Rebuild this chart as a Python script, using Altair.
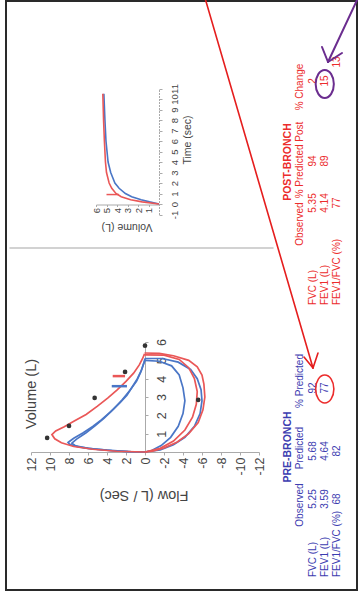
import altair as alt
import pandas as pd

# ======================= DATA =======================
rows = ["FVC (L)", "FEV1 (L)", "FEV1/FVC (%)"]
pre_observed = [5.25, 3.59, 68]
pre_predicted = [5.68, 4.64, 82]
pre_pct_predicted = [92, 77, None]
post_observed = [5.35, 4.14, 77]
post_pct_predicted = [94, 89, None]
post_pct_change = [2, 15, None]
post_pct_change_ratio = [13]          # FEV1/FVC % change (printed off-line)

flow_ticks = [12, 10, 8, 6, 4, 2, 0, -2, -4, -6, -8, -10, -12]
fv_volume_ticks = [1, 2, 3, 4, 5, 6]
time_ticks = [-1, 0, 1, 2, 3, 4, 5, 6, 7, 8, 9, 10, 11]
tv_volume_ticks = [1, 2, 3, 4, 5, 6]

# Flow-volume loops (flow L/s, volume L)
pre_exp1_flow = [0, 1.5, 3.5, 5.5, 7.0, 7.9, 8.1, 7.5, 6.5, 5.5, 4.6, 3.6, 2.6, 1.9, 1.4, 0.8, 0.35, 0.1, 0.0]
pre_exp1_vol = [0, 0.02, 0.08, 0.17, 0.28, 0.4, 0.52, 0.75, 1.05, 1.4, 1.75, 2.2, 2.7, 3.1, 3.5, 4.0, 4.5, 4.9, 5.1]
pre_exp2_flow = [0, 1.8, 4.0, 6.0, 7.3, 7.7, 7.2, 6.2, 5.2, 4.3, 3.3, 2.4, 1.6, 0.9, 0.45, 0.15, 0.0]
pre_exp2_vol = [0, 0.02, 0.1, 0.2, 0.33, 0.48, 0.7, 1.05, 1.45, 1.85, 2.35, 2.85, 3.35, 3.85, 4.35, 4.8, 5.0]
post_exp_flow = [0, 3.0, 5.5, 7.5, 8.8, 9.5, 9.8, 9.4, 8.5, 7.4, 6.2, 5.0, 3.9, 2.9, 2.0, 1.2, 0.6, 0.25, 0.05]
post_exp_vol = [0, 0.04, 0.15, 0.3, 0.5, 0.72, 0.95, 1.15, 1.38, 1.7, 2.05, 2.5, 2.95, 3.4, 3.85, 4.3, 4.75, 5.1, 5.35]

pre_insp1_flow = [0, -1.5, -2.8, -3.6, -4.0, -4.2, -4.0, -3.5, -2.7, -1.7, -0.7, 0]
pre_insp1_vol = [5.0, 4.95, 4.7, 4.2, 3.5, 2.8, 2.1, 1.4, 0.8, 0.35, 0.08, 0]
pre_insp2_flow = [0, -1.8, -3.5, -4.8, -5.5, -5.9, -6.0, -5.8, -5.2, -4.2, -3.0, -1.6, 0]
pre_insp2_vol = [5.1, 5.1, 4.9, 4.5, 4.0, 3.4, 2.8, 2.1, 1.4, 0.8, 0.4, 0.12, 0]
post_insp1_flow = [0.05, -2.0, -3.6, -4.6, -5.2, -5.5, -5.4, -5.0, -4.2, -3.0, -1.6, 0]
post_insp1_vol = [5.3, 5.28, 5.05, 4.6, 4.0, 3.3, 2.6, 1.9, 1.2, 0.6, 0.2, 0]
post_insp2_flow = [0.05, -1.5, -3.0, -4.6, -5.5, -6.0, -6.2, -6.3, -6.1, -5.6, -4.6, -3.4, -2.0, -0.8, 0]
post_insp2_vol = [5.4, 5.38, 5.25, 5.0, 4.65, 4.2, 3.7, 3.0, 2.3, 1.6, 1.0, 0.55, 0.22, 0.05, 0]

# predicted points on flow-volume plot
pred_flow = [10.3, 8.0, 5.3, 2.1, 0.0, -5.6]
pred_vol = [0.77, 1.42, 2.95, 4.37, 5.8, 2.84]

# FEV1 markers (volume level, flow extent)
fev1_test = ["Pre", "Post"]
fev1_vol = [3.59, 4.14]
fev1_flow_a = [3.5, 3.4]
fev1_flow_b = [1.9, 2.1]

# Volume-time curves
pre_time = [0, 0.2, 0.4, 0.7, 1.0, 1.5, 2.0, 3.0, 4.0, 6.0, 8.0, 10.5]
pre_tvol = [0, 0.9, 1.7, 2.6, 3.2, 3.8, 4.2, 4.6, 4.85, 5.05, 5.15, 5.25]
post_time = [0, 0.2, 0.4, 0.7, 1.0, 1.5, 2.0, 3.0, 4.0, 6.0, 8.0, 10.5]
post_tvol = [0, 1.6, 2.7, 3.6, 4.1, 4.5, 4.75, 5.0, 5.1, 5.2, 5.28, 5.35]
post_t_marker = [0.9]
post_t_marker_vol_a = [3.8]
post_t_marker_vol_b = [5.0]

# ======================= STYLE / LAYOUT =======================
W, H = 360, 592
BLUE = "#4a76c6"
RED = "#ea5757"
TBLUE = "#3c3cb0"
TRED = "#ec2c2c"
PURPLE = "#6b2d8f"
GRAY = "#444444"
FONT = "Liberation Sans"
NFONT = "Liberation Sans Narrow, Liberation Sans, Arial, sans-serif"

FV_X = dict(domain=[-12, 12], range=[259, 31], nice=False, zero=False)
FV_Y = dict(domain=[0, 6], range=[452, 342], nice=False, zero=False)
TV_X = dict(domain=[0, 6], range=[159, 96], nice=False, zero=False)
TV_Y = dict(domain=[-1, 11], range=[214.5, 88.5], nice=False, zero=False)
PX_X = dict(domain=[0, W], range=[0, W], nice=False, zero=False)
PX_Y = dict(domain=[0, H], range=[0, H], nice=False, zero=False)
ROW_X = alt.Scale(type="point", domain=rows, range=[312.5, 337], padding=0)
COLOR = alt.Scale(domain=["Pre", "Post"], range=[BLUE, RED])

one = pd.DataFrame({"k": [0]})


def curve(test, name, xs, ys, xn, yn):
    return pd.DataFrame({"test": test, "curve": name, xn: xs, yn: ys,
                         "i": list(range(len(xs)))})


fv = pd.concat([
    curve("Pre", "pe1", pre_exp1_flow, pre_exp1_vol, "flow", "volume"),
    curve("Pre", "pe2", pre_exp2_flow, pre_exp2_vol, "flow", "volume"),
    curve("Pre", "pi1", pre_insp1_flow, pre_insp1_vol, "flow", "volume"),
    curve("Pre", "pi2", pre_insp2_flow, pre_insp2_vol, "flow", "volume"),
    curve("Post", "qi1", post_insp1_flow, post_insp1_vol, "flow", "volume"),
    curve("Post", "qi2", post_insp2_flow, post_insp2_vol, "flow", "volume"),
    curve("Post", "qe", post_exp_flow, post_exp_vol, "flow", "volume"),
])
tv = pd.concat([
    curve("Pre", "p", pre_time, pre_tvol, "time", "vol"),
    curve("Post", "q", post_time, post_tvol, "time", "vol"),
])


def label_text(x, y, text, angle, size, color=GRAY, weight="normal", align="center", font=FONT):
    return alt.Chart(one).mark_text(
        text=text, angle=angle, fontSize=size, color=color, fontWeight=weight,
        align=align, baseline="middle", font=font,
    ).encode(x=alt.value(x), y=alt.value(y))


def pixel_segments(df, color, width):
    return alt.Chart(df).mark_rule(color=color, strokeWidth=width, strokeCap="round").encode(
        x=alt.X("x:Q", scale=alt.Scale(**PX_X), axis=None), x2="x2:Q",
        y=alt.Y("y:Q", scale=alt.Scale(**PX_Y), axis=None), y2="y2:Q")


layers = []

# frame and separator
layers.append(alt.Chart(one).mark_rect(fillOpacity=0, stroke="#2a2a2a", strokeWidth=2).encode(
    x=alt.value(6), x2=alt.value(357), y=alt.value(1), y2=alt.value(590)))
separator = pd.DataFrame({"x": [10], "y": [248], "x2": [273], "y2": [248]})
layers.append(pixel_segments(separator, "#c4c4c4", 1.5))

# ---------- flow-volume plot ----------
layers.append(alt.Chart(fv).mark_line(strokeWidth=1.7).encode(
    x=alt.X("flow:Q", scale=alt.Scale(**FV_X), axis=alt.Axis(
        values=flow_ticks, orient="bottom", offset=-(H - 452), title=None, grid=False,
        labelAngle=270, labelAlign="right", labelBaseline="middle", labelFontSize=12.5,
        labelColor=GRAY, labelFont=FONT, labelPadding=2, labelOverlap=False, labelFlush=False,
        labelExpr="'' + datum.value", domainColor="#aaaaaa", tickColor="#aaaaaa", tickSize=3)),
    y=alt.Y("volume:Q", scale=alt.Scale(**FV_Y), axis=alt.Axis(
        values=fv_volume_ticks, orient="right", offset=-(W - 145), title=None, grid=False,
        labelAngle=270, labelAlign="center", labelBaseline="top", labelFontSize=12.5,
        labelColor=GRAY, labelFont=FONT, labelPadding=7, labelOverlap=False, labelFlush=False,
        domainColor="#aaaaaa", tickColor="#aaaaaa", tickSize=3)),
    color=alt.Color("test:N", scale=COLOR, legend=None),
    detail="curve:N",
    order="i:Q",
))

fev1 = pd.DataFrame({"test": fev1_test, "vol": fev1_vol, "fa": fev1_flow_a, "fb": fev1_flow_b})
layers.append(alt.Chart(fev1).mark_rule(strokeWidth=2.5).encode(
    x=alt.X("fa:Q", scale=alt.Scale(**FV_X), axis=None), x2="fb:Q",
    y=alt.Y("vol:Q", scale=alt.Scale(**FV_Y), axis=None),
    color=alt.Color("test:N", scale=COLOR, legend=None)))

pred = pd.DataFrame({"flow": pred_flow, "vol": pred_vol})
layers.append(alt.Chart(pred).mark_circle(size=22, color="#333333", opacity=1).encode(
    x=alt.X("flow:Q", scale=alt.Scale(**FV_X), axis=None),
    y=alt.Y("vol:Q", scale=alt.Scale(**FV_Y), axis=None)))

layers.append(label_text(32, 394, "Volume (L)", 270, 14.5))
layers.append(label_text(144, 495, "Flow (L / Sec)", 180, 14.5))

# ---------- volume-time plot ----------
layers.append(alt.Chart(tv).mark_line(strokeWidth=1.6).encode(
    x=alt.X("vol:Q", scale=alt.Scale(**TV_X), axis=alt.Axis(
        values=tv_volume_ticks, orient="bottom", offset=-(H - 204.5), title=None, grid=False,
        labelAngle=270, labelAlign="right", labelBaseline="middle", labelFontSize=9.5,
        labelColor=GRAY, labelFont=FONT, labelPadding=1, labelOverlap=False, labelFlush=False,
        domainColor="#aaaaaa", tickColor="#aaaaaa", tickSize=2)),
    y=alt.Y("time:Q", scale=alt.Scale(**TV_Y), axis=alt.Axis(
        values=time_ticks, orient="right", offset=-(W - 159), title=None, grid=False,
        labelAngle=270, labelAlign="center", labelBaseline="top", labelFontSize=9.5,
        labelColor=GRAY, labelFont=FONT, labelPadding=7, labelOverlap=False, labelFlush=False,
        labelExpr="'' + datum.value", domainColor="#aaaaaa", domainDash=[2, 1],
        tickColor="#aaaaaa", tickSize=3)),
    color=alt.Color("test:N", scale=COLOR, legend=None),
    detail="curve:N",
    order="i:Q",
))
tmark = pd.DataFrame({"t": post_t_marker, "va": post_t_marker_vol_a, "vb": post_t_marker_vol_b})
layers.append(alt.Chart(tmark).mark_rule(strokeWidth=1.5, color=RED).encode(
    x=alt.X("va:Q", scale=alt.Scale(**TV_X), axis=None), x2="vb:Q",
    y=alt.Y("t:Q", scale=alt.Scale(**TV_Y), axis=None)))
layers.append(label_text(127, 227, "Volume (L)", 180, 10.5))
layers.append(label_text(188, 140, "Time (sec)", 270, 10.5))

# ---------- tables ----------
def col_layer(values, y, color, align="center"):
    df = pd.DataFrame({"row": rows, "v": values}).dropna()
    return alt.Chart(df).mark_text(angle=270, fontSize=10, color=color, font=NFONT,
                                   align=align, baseline="middle").encode(
        x=alt.X("row:N", scale=ROW_X, axis=None),
        y=alt.value(y),
        text=alt.Text("v:N"))


# PRE-BRONCH
layers.append(label_text(288, 447, "PRE-BRONCH", 270, 10.5, TBLUE, "bold"))
layers.append(label_text(300, 505, "Observed", 270, 10, TBLUE, font=NFONT))
layers.append(label_text(300, 448, "Predicted", 270, 10, TBLUE, font=NFONT))
layers.append(label_text(300, 381, "% Predicted", 270, 10, TBLUE, font=NFONT))
layers.append(col_layer(rows, 577, TBLUE, align="left"))
layers.append(col_layer(pre_observed, 499, TBLUE))
layers.append(col_layer(pre_predicted, 451, TBLUE))
layers.append(col_layer(pre_pct_predicted, 388, TBLUE))

# POST-BRONCH
layers.append(label_text(288, 162, "POST-BRONCH", 270, 10.5, TRED, "bold"))
layers.append(label_text(300, 224, "Observed", 270, 10, TRED, font=NFONT))
layers.append(label_text(300, 160, "% Predicted Post", 270, 10, TRED, font=NFONT))
layers.append(label_text(300, 87, "% Change", 270, 10, TRED, font=NFONT))
layers.append(col_layer(rows, 305, TRED, align="left"))
layers.append(col_layer(post_observed, 203, TRED))
layers.append(col_layer(post_pct_predicted, 161, TRED))
layers.append(col_layer(post_pct_change, 81, TRED))
chg3 = pd.DataFrame({"row": [rows[2]], "v": post_pct_change_ratio})
layers.append(alt.Chart(chg3).mark_text(angle=270, fontSize=10, color=TRED, font=NFONT,
                                        baseline="middle").encode(
    x=alt.X("row:N", scale=ROW_X, axis=None), y=alt.value(62), text=alt.Text("v:N")))

# ---------- annotations ----------
ELLIPSE = "M0,-1 A0.65,1 0 1,1 0,1 A0.65,1 0 1,1 0,-1 Z"
hl_cell = pd.DataFrame({"row": [rows[1]]})
layers.append(alt.Chart(hl_cell).mark_point(shape=ELLIPSE, size=784, filled=False,
                                            stroke=TRED, strokeWidth=1.6, opacity=1).encode(
    x=alt.X("row:N", scale=ROW_X, axis=None), y=alt.value(389)))
layers.append(alt.Chart(hl_cell).mark_point(shape=ELLIPSE, size=784, filled=False,
                                            stroke=PURPLE, strokeWidth=2, opacity=1).encode(
    x=alt.X("row:N", scale=ROW_X, axis=None), y=alt.value(84)))

red_arrow = pd.DataFrame({"x": [205, 313, 313], "y": [-2, 368, 368],
                          "x2": [313, 304, 318], "y2": [368, 357, 353]})
purple_arrow = pd.DataFrame({"x": [358, 328, 328], "y": [-2, 62, 62],
                             "x2": [328, 322, 342], "y2": [62, 47, 53]})
layers.append(pixel_segments(red_arrow, "#e51e1e", 1.6))
layers.append(pixel_segments(purple_arrow, PURPLE, 2))

chart = alt.layer(*layers).resolve_scale(
    x="independent", y="independent"
).resolve_axis(
    x="independent", y="independent"
).properties(
    width=W, height=H, padding=0, autosize=alt.AutoSizeParams(type="none"),
    background="white",
).configure_view(stroke=None)

chart.save("out.html", embed_options={"renderer": "svg", "actions": False})
